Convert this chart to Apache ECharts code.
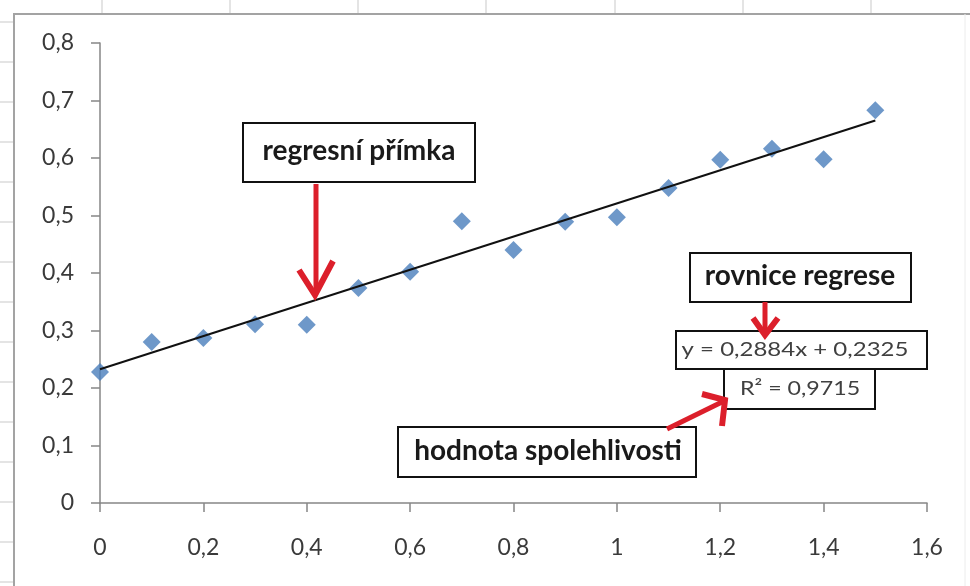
<!DOCTYPE html>
<html>
<head>
<meta charset="utf-8">
<script src="https://cdn.jsdelivr.net/npm/echarts@6/dist/echarts.min.js"></script>
<style>
html,body{margin:0;padding:0;background:#fff;}
#c{width:970px;height:586px;}
</style>
</head>
<body>
<div id="c"></div>
<script>
// ---- data ----
var xValues = [0, 0.1, 0.2, 0.3, 0.4, 0.5, 0.6, 0.7, 0.8, 0.9, 1.0, 1.1, 1.2, 1.3, 1.4, 1.5];
var yValues = [0.228, 0.28, 0.287, 0.311, 0.31, 0.374, 0.402, 0.49, 0.44, 0.489, 0.497, 0.548, 0.597, 0.616, 0.598, 0.683];
var trendX = [0, 1.5];
var trendY = [0.2325, 0.6651];
var equationText = 'y = 0,2884x + 0,2325';
var r2Text = 'R\u00B2 = 0,9715';
var labelLine = 'regresní přímka';
var labelEquation = 'rovnice regrese';
var labelR2 = 'hodnota spolehlivosti';

var points = xValues.map(function (x, i) { return [x, yValues[i]]; });
var trend = trendX.map(function (x, i) { return [x, trendY[i]]; });

function fmt(v) { return String(+v.toFixed(2)).replace('.', ','); }

var RED = '#dc1f2b';
var GRIDC = '#c9c9c9';
var BORDER = '#a3a3a3';

var graphics = [];
// spreadsheet cells around the chart object
[102, 230, 358, 486, 615, 743, 871].forEach(function (x) {
  graphics.push({ type: 'line', shape: { x1: x, y1: 0, x2: x, y2: 13 }, style: { stroke: GRIDC, lineWidth: 1 }, silent: true });
});
for (var yy = 22; yy < 586; yy += 40) {
  graphics.push({ type: 'line', shape: { x1: 0, y1: yy, x2: 13, y2: yy }, style: { stroke: GRIDC, lineWidth: 1 }, silent: true });
}
// chart object border
graphics.push({ type: 'polyline', shape: { points: [[14, 586], [14, 14], [970, 14]] }, style: { stroke: BORDER, lineWidth: 2, fill: null }, silent: true });
graphics.push({ type: 'line', shape: { x1: 965, y1: 14, x2: 965, y2: 586 }, style: { stroke: '#ececec', lineWidth: 1 }, silent: true });

function box(x, y, w, h) {
  return { type: 'rect', shape: { x: x, y: y, width: w, height: h }, style: { fill: '#fff', stroke: '#111', lineWidth: 2 }, z: 10 };
}
function label(text, cx, cy, size, weight, sx) {
  return {
    type: 'text', x: cx, y: cy, scaleX: sx || 1, z: 11,
    style: { text: text, x: 0, y: 0, align: 'center', verticalAlign: 'middle',
      fontFamily: 'Lato', fontSize: size, fontWeight: weight, fill: weight === 'bold' ? '#1a1a1a' : '#404040' }
  };
}
function arrowLines(pts, w) {
  return { type: 'polyline', shape: { points: pts }, style: { stroke: RED, lineWidth: w || 4, fill: null, lineJoin: 'miter' }, z: 12 };
}

// annotation: regression line
graphics.push(box(243, 123, 232, 59));
graphics.push(label(labelLine, 359, 151, 28, 'bold'));
graphics.push(arrowLines([[316, 184], [316, 294]], 5));
graphics.push(arrowLines([[299, 270], [315, 295], [333, 261]], 6));

// annotation: regression equation
graphics.push(box(690, 253, 221, 49));
graphics.push(label(labelEquation, 800, 276, 28, 'bold'));
graphics.push(arrowLines([[765, 302], [765, 333]], 5));
graphics.push(arrowLines([[753, 318], [765, 335], [778, 318]], 6));

// equation & R2 boxes
graphics.push(box(676, 331, 251, 38));
graphics.push(label(equationText, 795, 350, 20, 'normal', 1.2));
graphics.push(box(724, 369, 151, 40));
graphics.push(label(r2Text, 800, 389, 20, 'normal', 1.16));

// annotation: R2 value
graphics.push(box(398, 427, 298, 50));
graphics.push(label(labelR2, 548, 451, 28, 'bold'));
graphics.push(arrowLines([[667, 429], [722, 402]], 5));
graphics.push(arrowLines([[702, 394], [725, 400], [722, 426]], 6));

var chart = echarts.init(document.getElementById('c'), null, { renderer: 'canvas' });
chart.setOption({
  backgroundColor: '#fff',
  animation: false,
  textStyle: { fontFamily: 'Lato' },
  grid: { left: 100, right: 43, top: 43, bottom: 83, containLabel: false },
  xAxis: {
    type: 'value', min: 0, max: 1.6, interval: 0.2,
    axisLine: { show: true, onZero: false, lineStyle: { color: '#868686', width: 1.5 } },
    axisTick: { show: true, inside: false, length: 9, lineStyle: { color: '#868686', width: 1.5 } },
    splitLine: { show: false },
    axisLabel: { formatter: fmt, color: '#3a3a3a', fontSize: 23, fontFamily: 'Lato', margin: 33 }
  },
  yAxis: {
    type: 'value', min: 0, max: 0.8, interval: 0.1,
    axisLine: { show: true, onZero: false, lineStyle: { color: '#868686', width: 1.5 } },
    axisTick: { show: true, inside: false, length: 9, lineStyle: { color: '#868686', width: 1.5 } },
    splitLine: { show: false },
    axisLabel: { formatter: fmt, color: '#3a3a3a', fontSize: 23, fontFamily: 'Lato', margin: 26 }
  },
  series: [
    {
      type: 'line', data: trend, symbol: 'none', z: 3,
      lineStyle: { color: '#111', width: 2 }
    },
    {
      type: 'scatter', data: points, symbol: 'diamond', symbolSize: 18, z: 2,
      itemStyle: { color: '#4a7ebb' }
    }
  ],
  graphic: graphics
});
</script>
</body>
</html>
